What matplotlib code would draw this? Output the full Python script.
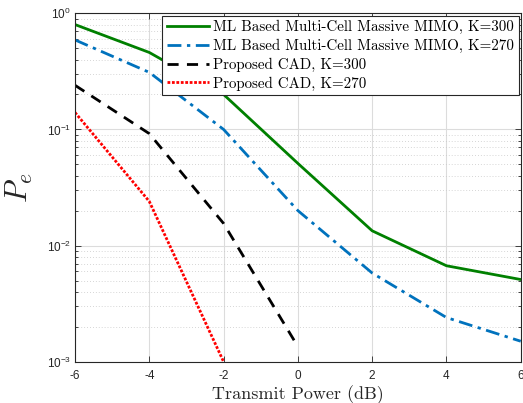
import matplotlib
matplotlib.use("Agg")
import matplotlib.pyplot as plt
from matplotlib.ticker import LogLocator, FuncFormatter, NullFormatter, MultipleLocator
import math

x = [-6, -4, -2, 0, 2, 4, 6]
ml_300 = [0.80, 0.46, 0.20, 0.051, 0.0134, 0.0067, 0.0051]
ml_270 = [0.59, 0.31, 0.10, 0.020, 0.0058, 0.0024, 0.0015]
x_cad300 = [-6, -4, -2, 0]
cad_300 = [0.24, 0.092, 0.0155, 0.00135]
x_cad270 = [-6, -4, -2]
cad_270 = [0.14, 0.024, 0.001]

labels = ["ML Based Multi-Cell Massive MIMO, K=300",
          "ML Based Multi-Cell Massive MIMO, K=270",
          "Proposed CAD, K=300",
          "Proposed CAD, K=270"]

plt.rcParams['mathtext.fontset'] = 'cm'

fig = plt.figure(figsize=(5.23, 4.03), dpi=100)
ax = fig.add_axes([0.1434, 0.1025, 0.8523, 0.8645])

ax.plot(x, ml_300, color='#008000', lw=2.0, ls='-', label=labels[0])
ax.plot(x, ml_270, color='#0072BD', lw=2.0, ls=(0, (5, 2, 1.2, 2)), label=labels[1])
ax.plot(x_cad300, cad_300, color='black', lw=2.0, ls=(0, (4, 3)), label=labels[2])
ax.plot(x_cad270, cad_270, color='red', lw=2.0, ls=(0, (1, 0.6)), label=labels[3])

ax.set_yscale('log')
ax.set_xlim(-6, 6)
ax.set_ylim(1e-3, 1)
ax.xaxis.set_major_locator(MultipleLocator(2))
ax.yaxis.set_major_locator(LogLocator(base=10, numticks=10))
ax.yaxis.set_minor_locator(LogLocator(base=10, subs=range(2, 10), numticks=10))
ax.yaxis.set_minor_formatter(NullFormatter())

def yfmt(v, pos):
    e = int(round(math.log10(v)))
    return r"$\mathdefault{10^{%d}}$" % e
ax.yaxis.set_major_formatter(FuncFormatter(yfmt))
ax.xaxis.set_major_formatter(FuncFormatter(lambda v, p: "%d" % v))

ax.tick_params(axis='both', which='both', direction='in', top=True, right=True,
               labelsize=8.5, colors='#262626', labelcolor='#262626')
ax.tick_params(which='major', length=4, width=0.6)
ax.tick_params(which='minor', length=2.5, width=0.6)
ax.tick_params(axis='x', pad=6)
ax.tick_params(axis='y', pad=3)
for lab in ax.get_xticklabels() + ax.get_yticklabels():
    lab.set_family('Liberation Sans')

ax.grid(True, which='major', color='#dcdcdc', lw=0.8, ls='-')
ax.grid(True, which='minor', axis='y', color='#c8c8c8', lw=0.6, ls=(0, (1, 2.5)))
ax.set_axisbelow(True)
for s in ax.spines.values():
    s.set_color('#262626')
    s.set_linewidth(0.8)

ax.set_xlabel("Transmit Power (dB)", family='cmr10', fontsize=13, color='#262626', labelpad=2)
ax.set_ylabel(r"$P_e$", fontsize=22, color='#262626', labelpad=8)

leg = ax.legend(loc='upper right', prop={'family': 'cmr10', 'size': 10.8},
                frameon=True, fancybox=False, edgecolor='#262626', framealpha=1,
                handlelength=2.8, labelspacing=0.3, borderpad=0.3, handletextpad=0.3,
                borderaxespad=0.15)
leg.get_frame().set_linewidth(0.8)

fig.savefig("out.png", dpi=100)
